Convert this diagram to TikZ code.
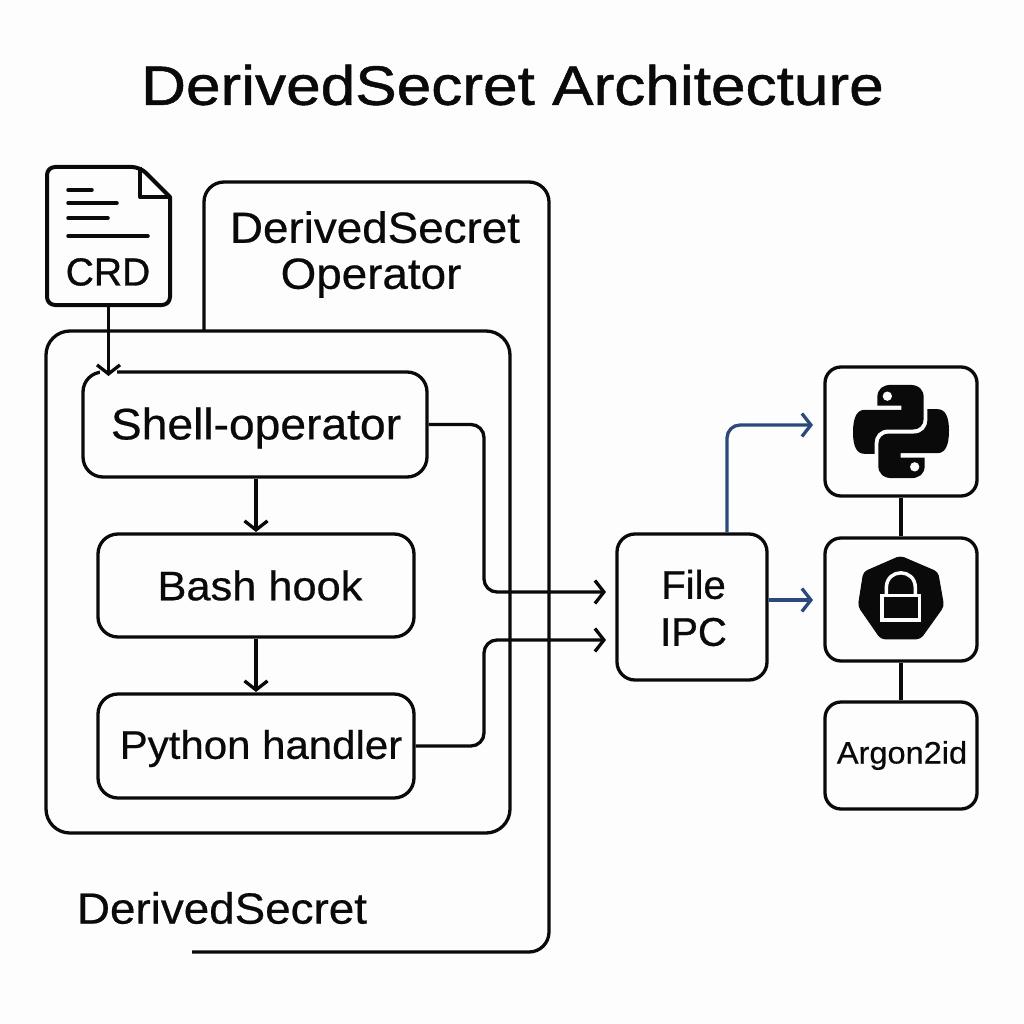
\documentclass[tikz,border=0pt]{standalone}
\usepackage{fontspec}
\setmainfont{Liberation Sans}
\newfontfamily\titlefont[FakeStretch=1.12,FakeBold=0.9]{Liberation Sans}
\newfontfamily\labelfont[FakeStretch=1.05,FakeBold=0.5]{Liberation Sans}
\newfontfamily\plainfont[FakeBold=0.8]{Liberation Sans}
\usetikzlibrary{arrows.meta,calc}
\definecolor{ink}{HTML}{0A0A0A}
\definecolor{navy}{HTML}{2A4A7C}
\definecolor{paper}{HTML}{FDFDFD}
\tikzset{
  box/.style={draw=ink,line width=3.3pt,rounded corners=16pt,fill=paper,inner sep=0pt,align=center,text=ink},
  frame/.style={draw=ink,line width=3.3pt,rounded corners=20pt},
  barb/.style={-{Straight Barb[length=9pt,width=23pt,line width=3.3pt]}},
  conn/.style={draw=ink,line width=3.3pt,rounded corners=13pt,barb},
  bconn/.style={draw=navy,line width=3.3pt,rounded corners=13pt,barb},
  sconn/.style={draw=ink,line width=3.3pt,barb},
  link/.style={draw=ink,line width=4pt},
  txt/.style={inner sep=0pt,text=ink,align=center},
  docline/.style={draw=ink,line width=3.5pt,line cap=round},
}
\begin{document}
\begin{tikzpicture}[x=1pt,y=-1pt]
\useasboundingbox (0,0) rectangle (1024,1024);
\fill[paper] (0,0) rectangle (1024,1024);

\node[txt,font=\titlefont\fontsize{55.5}{55.5}\selectfont] (title) at (512.5,85) {DerivedSecret Architecture};

% outer operator frame (open path)
\coordinate (oA) at (192,952);
\coordinate (oB) at (549,952);
\coordinate (oC) at (549,182);
\coordinate (oD) at (204,182);
\coordinate (oE) at (204,331);
\draw[frame] (oA) -- (oB) -- (oC) -- (oD) -- (oE);
\node[txt,font=\labelfont\fontsize{43.6}{46}\selectfont] (optitle) at (375,254.5) {DerivedSecret\\\hspace*{-8pt}Operator};
\node[txt,font=\labelfont\fontsize{43.6}{46}\selectfont] (crname) at (222,908) {DerivedSecret};

% inner frame
\draw[frame,rounded corners=24pt] (46,331) rectangle (510,833);

% boxes
\node[box,rounded corners=20pt,minimum width=344pt,minimum height=105pt] (shell) at (255,424.5) {};
\node[txt,font=\labelfont\fontsize{44}{44}\selectfont] (shelltext) at (256,428) {Shell-operator};
\node[box,rounded corners=20pt,minimum width=316pt,minimum height=103pt] (bash) at (256,585.5) {};
\node[txt,font=\labelfont\fontsize{41.3}{41.3}\selectfont] (bashtext) at (260,585.5) {Bash hook};
\node[box,rounded corners=20pt,minimum width=316pt,minimum height=104pt] (pyh) at (256,746) {};
\node[txt,font=\labelfont\fontsize{40}{40}\selectfont] (pyhtext) at (261,748.5) {Python handler};
\node[box,rounded corners=18pt,minimum width=150pt,minimum height=146pt] (file) at (692,607) {};
\node[txt,font=\plainfont\fontsize{40}{47}\selectfont] (filetext) at (693.5,608) {File\\IPC};
\node[box,minimum width=152pt,minimum height=129pt] (py) at (901,431.5) {};
\node[box,minimum width=152pt,minimum height=123pt] (k8s) at (901,599.5) {};
\node[box,minimum width=152pt,minimum height=107pt,font=\labelfont\fontsize{31}{31}\selectfont] (argon) at (901,755.5) {\hspace*{2pt}Argon2id};

% CRD document
\node[minimum width=123pt,minimum height=138pt,inner sep=0pt] (crd) at (108.5,236) {};
\draw[draw=ink,line width=4pt,fill=paper,line join=round,rounded corners=8pt]
  (47,167) -- (140,167) [sharp corners] -- (170,197) [rounded corners=8pt] -- (170,305) -- (47,305) -- cycle;
\draw[draw=ink,line width=4pt,line join=round] (140,167) -- (140,197) -- (170,197);
\draw[docline] (68,190) -- (92,190);
\draw[docline] (68,203) -- (117,203);
\draw[docline] (68,218) -- (108,218);
\draw[docline] (68,236) -- (148,236);
\node[txt,font=\plainfont\fontsize{39}{39}\selectfont] (crdtext) at (108,272) {CRD};

% CRD arrow, breaking the top edge of the shell box
\coordinate (tipA) at (107.5,376);
\draw[draw=paper,line width=5pt] (100,372) -- (117,372);
\draw[sconn] (crd.south) -- (crd.south |- tipA);

% vertical arrows
\coordinate (t1) at (256,532);
\coordinate (t2) at (256,692);
\draw[sconn] (shell.south -| t1) -- (t1);
\draw[sconn] (bash.south -| t2) -- (t2);

% to File IPC
\coordinate (f1) at (606,592);
\coordinate (f2) at (606,640);
\draw[conn] (shell.east) -- (484,424.5) -- (484,592) -- (f1);
\draw[conn] (pyh.east) -- (484,746) -- (484,640) -- (f2);

% from File IPC
\coordinate (b1) at (813,425);
\coordinate (b2) at (813,600);
\draw[bconn] (file.north -| 727,0) -- (727,425) -- (b1);
\draw[bconn] (file.east |- b2) -- (b2);

% stack links
\draw[link] (py.south) -- (k8s.north);
\draw[link] (k8s.south) -- (argon.north);

% Python logo
\begin{scope}[shift={(py.center)},x=0.3333pt,y=-0.3333pt,shift={(-604,-243)}]
\def\snake{(533,140) .. controls (533,115) and (550,103) .. (575,103)
  -- (630,103) .. controls (658,103) and (672,118) .. (672,140)
  -- (672,205) .. controls (672,225) and (658,237) .. (640,237)
  -- (565,237) .. controls (540,237) and (525,255) .. (525,277)
  -- (525,310) -- (495,310) .. controls (472,310) and (460,290) .. (460,245)
  .. controls (460,200) and (472,178) .. (495,178)
  -- (605,178) -- (605,165) -- (533,165) -- cycle}
\fill[ink] \snake;
\fill[paper] (563,137) circle (14);
\begin{scope}[rotate around={180:(604,243)}]
\fill[ink] \snake;
\fill[paper] (563,137) circle (14);
\end{scope}
\end{scope}

% Kubernetes secret badge
\begin{scope}[shift={(k8s.center)},x=0.3333pt,y=-0.3333pt,shift={(-602,-750)}]
\fill[ink,rounded corners=4pt,draw=ink,line width=1pt] (600,620) -- (712,668) -- (730,770) -- (660,868) -- (542,868) -- (474,770) -- (490,668) -- cycle;
\draw[paper,line width=3.5pt] (558,738) -- (558,715) .. controls (558,655) and (645,655) .. (645,715) -- (645,738);
\draw[paper,line width=3.5pt] (545,738) rectangle (658,812);
\end{scope}
\end{tikzpicture}
\end{document}
